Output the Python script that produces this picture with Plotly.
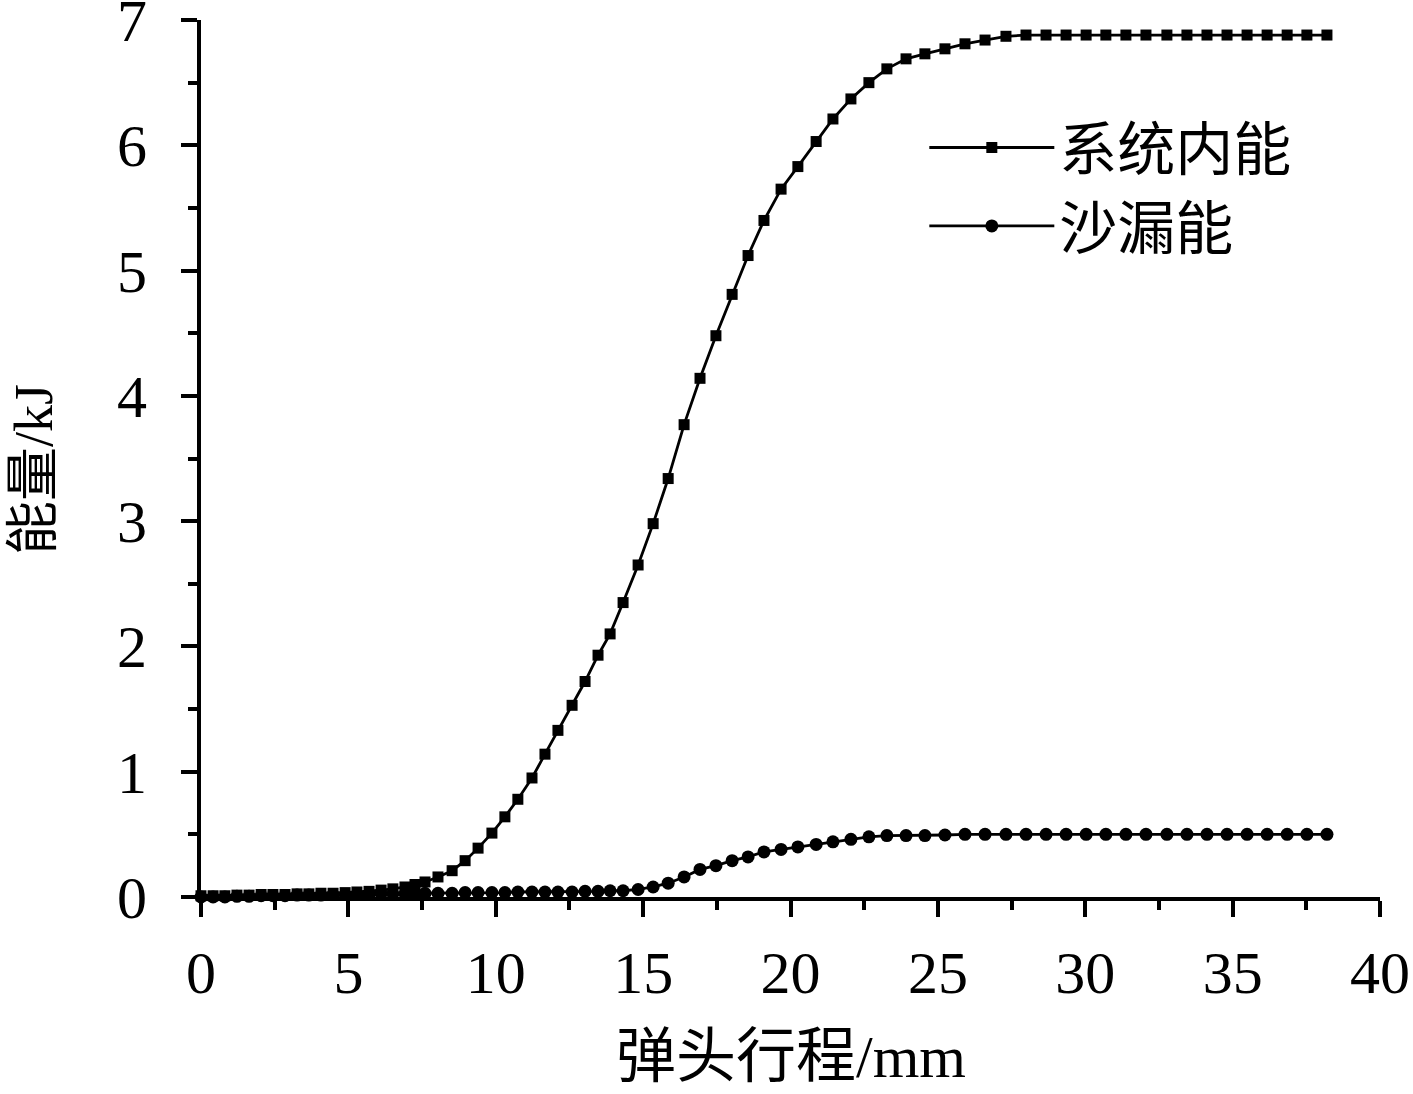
import plotly.graph_objects as go

# shared travel positions (mm)
travel_mm = [0, 0.41, 0.81, 1.22, 1.63, 2.04, 2.44, 2.85, 3.26, 3.66, 4.07, 4.48, 4.89,
             5.29, 5.70, 6.11, 6.51, 6.92, 7.26, 7.60, 8.04, 8.52, 8.96, 9.40, 9.87,
             10.31, 10.75, 11.23, 11.67, 12.11, 12.59, 13.03, 13.47, 13.88, 14.32,
             14.83, 15.34, 15.85, 16.39, 16.93, 17.47, 18.02, 18.56, 19.10, 19.68,
             20.25, 20.87, 21.44, 22.05, 22.66, 23.27, 23.92, 24.56, 25.24, 25.92,
             26.60, 27.31, 27.99, 28.67, 29.35, 30.03, 30.70, 31.38, 32.06, 32.77,
             33.45, 34.13, 34.81, 35.49, 36.17, 36.85, 37.52, 38.20]

# 系统内能 (kJ)
internal_energy = [0.01, 0.01, 0.01, 0.015, 0.015, 0.02, 0.02, 0.02, 0.025, 0.025, 0.03,
                   0.03, 0.035, 0.04, 0.045, 0.055, 0.065, 0.08, 0.10, 0.12, 0.16, 0.21,
                   0.29, 0.39, 0.51, 0.64, 0.78, 0.95, 1.14, 1.33, 1.53, 1.72, 1.93, 2.10,
                   2.35, 2.65, 2.98, 3.34, 3.77, 4.14, 4.48, 4.81, 5.12, 5.40, 5.65, 5.83,
                   6.03, 6.21, 6.37, 6.50, 6.61, 6.69, 6.73, 6.77, 6.81, 6.84, 6.87, 6.88,
                   6.88, 6.88, 6.88, 6.88, 6.88, 6.88, 6.88, 6.88, 6.88, 6.88, 6.88, 6.88,
                   6.88, 6.88, 6.88]

# 沙漏能 (kJ)
hourglass_energy = [0.0, 0.0, 0.0, 0.005, 0.005, 0.01, 0.01, 0.01, 0.015, 0.015, 0.015,
                    0.02, 0.02, 0.02, 0.02, 0.025, 0.025, 0.025, 0.03, 0.03, 0.03, 0.03,
                    0.035, 0.035, 0.035, 0.035, 0.04, 0.04, 0.04, 0.04, 0.04, 0.045, 0.045,
                    0.05, 0.05, 0.06, 0.08, 0.11, 0.16, 0.22, 0.25, 0.29, 0.32, 0.36, 0.38,
                    0.40, 0.42, 0.44, 0.46, 0.48, 0.49, 0.49, 0.49, 0.495, 0.50, 0.50, 0.50,
                    0.50, 0.50, 0.50, 0.50, 0.50, 0.50, 0.50, 0.50, 0.50, 0.50, 0.50, 0.50,
                    0.50, 0.50, 0.50, 0.50]

series_names = ["系统内能", "沙漏能"]
x_ticks = [0, 5, 10, 15, 20, 25, 30, 35, 40]
y_ticks = [0, 1, 2, 3, 4, 5, 6, 7]
x_title = "弹头行程/mm"
y_title = "能量/kJ"

FONT = "Liberation Serif, Times New Roman, Noto Sans CJK SC, serif"

fig = go.Figure()
fig.add_trace(go.Scatter(
    x=travel_mm, y=internal_energy, name=series_names[0], mode="lines+markers",
    line=dict(color="black", width=2.8),
    marker=dict(symbol="square", size=11, color="black"),
    cliponaxis=False,
))
fig.add_trace(go.Scatter(
    x=travel_mm, y=hourglass_energy, name=series_names[1], mode="lines+markers",
    line=dict(color="black", width=2.8),
    marker=dict(symbol="circle", size=13, color="black"),
    cliponaxis=False,
))

axis_common = dict(
    showline=True, linecolor="black", linewidth=4, showgrid=False, zeroline=False,
    ticks="outside", ticklen=16, tickwidth=4, tickcolor="black",
    tickfont=dict(family=FONT, size=60, color="black"),
    mirror=False, automargin=False, ticklabeloverflow="allow",
)

fig.update_xaxes(
    range=[0, 40], tickvals=x_ticks, ticktext=[str(v) for v in x_ticks],
    minor=dict(dtick=2.5, ticklen=9, tickwidth=4, tickcolor="black", ticks="outside"),
    ticklabelstandoff=4,
    **axis_common,
)
fig.update_yaxes(
    range=[0, 7], tickvals=y_ticks, ticktext=[str(v) for v in y_ticks],
    minor=dict(dtick=0.5, ticklen=9, tickwidth=4, tickcolor="black", ticks="outside"),
    ticklabelstandoff=22,
    **axis_common,
)

fig.update_layout(
    width=1413, height=1094,
    margin=dict(l=201, r=33, t=20, b=197),
    paper_bgcolor="white", plot_bgcolor="white",
    font=dict(family=FONT, color="black"),
    legend=dict(
        x=0.6135, y=0.905, xanchor="left", yanchor="top",
        font=dict(family=FONT, size=58, color="black"),
        bgcolor="rgba(0,0,0,0)", itemwidth=125, tracegroupgap=0,
    ),
    showlegend=True,
    annotations=[
        dict(text=x_title, xref="paper", yref="paper", x=0.5, y=-0.2218,
             xanchor="center", yanchor="bottom", showarrow=False,
             font=dict(family=FONT, size=60, color="black")),
        dict(text=y_title, xref="paper", yref="paper", x=-0.1416, y=0.487,
             xanchor="center", yanchor="middle", showarrow=False, textangle=-90,
             font=dict(family=FONT, size=54, color="black")),
    ],
)

fig.write_html(
    "out.html",
    config={"displayModeBar": False},
    post_script="document.body.style.margin='0';document.body.style.overflow='hidden';",
)
